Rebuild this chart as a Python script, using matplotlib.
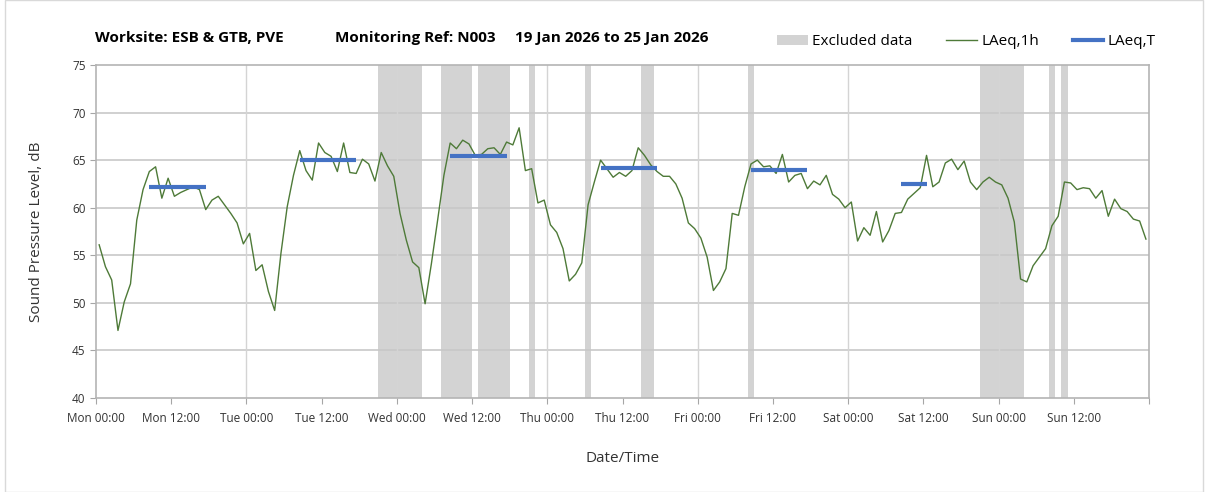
import numpy as np
import matplotlib.pyplot as plt
from matplotlib.patches import Patch, Rectangle
from matplotlib.lines import Line2D

# hourly LAeq,1h values, Mon 00:00 -> Sun 23:00
laeq_1h = [
    56.1, 53.8, 52.4, 47.1, 50.1, 52.0, 58.7, 61.9, 63.8, 64.3, 61.0, 63.1,
    61.2, 61.6, 61.9, 62.2, 61.9, 59.8, 60.8, 61.2, 60.3, 59.4, 58.4, 56.2,
    57.3, 53.4, 54.0, 51.2, 49.2, 55.2, 60.1, 63.4, 66.0, 63.9, 62.9, 66.8,
    65.8, 65.4, 63.8, 66.8, 63.7, 63.6, 65.1, 64.6, 62.8, 65.8, 64.4, 63.3,
    59.4, 56.6, 54.3, 53.7, 49.9, 54.1, 58.7, 63.4, 66.8, 66.2, 67.1, 66.7,
    65.5, 65.6, 66.2, 66.3, 65.6, 66.9, 66.6, 68.4, 63.9, 64.1, 60.5, 60.8,
    58.2, 57.4, 55.7, 52.3, 53.0, 54.2, 60.3, 62.7, 65.0, 64.1, 63.2, 63.7,
    63.3, 63.9, 66.3, 65.5, 64.5, 63.8, 63.3, 63.3, 62.5, 61.0, 58.4, 57.8,
    56.8, 54.8, 51.3, 52.2, 53.6, 59.4, 59.2, 62.2, 64.6, 65.0, 64.3, 64.4,
    63.6, 65.6, 62.7, 63.4, 63.6, 62.0, 62.8, 62.4, 63.4, 61.4, 60.9, 60.0,
    60.6, 56.5, 57.9, 57.1, 59.6, 56.4, 57.6, 59.4, 59.5, 60.9, 61.5, 62.1,
    65.5, 62.2, 62.7, 64.7, 65.1, 64.0, 64.9, 62.7, 61.9, 62.7, 63.2, 62.7,
    62.4, 61.0, 58.5, 52.5, 52.2, 53.9, 54.8, 55.7, 58.1, 59.1, 62.7, 62.6,
    61.9, 62.1, 62.0, 61.0, 61.8, 59.1, 60.9, 59.9, 59.6, 58.8, 58.6, 56.7,
]

# LAeq,T periods: first hour, last hour, level
period_start = [8, 32, 56, 80, 104, 128]
period_end = [17, 41, 65, 89, 113, 132]
period_level = [62.2, 65.0, 65.4, 64.2, 64.0, 62.5]

# excluded data (hours from Mon 00:00)
excl_start = [45, 55, 61, 69, 78, 87, 104, 141, 152, 154]
excl_end = [52, 60, 66, 70, 79, 89, 105, 148, 153, 155]

tick_labels = ["Mon 00:00", "Mon 12:00", "Tue 00:00", "Tue 12:00",
               "Wed 00:00", "Wed 12:00", "Thu 00:00", "Thu 12:00",
               "Fri 00:00", "Fri 12:00", "Sat 00:00", "Sat 12:00",
               "Sun 00:00", "Sun 12:00", ""]

plt.rcParams['font.family'] = ['Open Sans', 'DejaVu Sans']

fig = plt.figure(figsize=(12.08, 4.92), dpi=100)
fig.patches.append(Rectangle((0.004, 0.0), 0.992, 0.999, transform=fig.transFigure,
                             fill=False, edgecolor='#d9d9d9', lw=1))
ax = fig.add_axes([0.0795, 0.1911, 0.8717, 0.6768])

hours = np.arange(len(laeq_1h)) + 0.5
green = '#4e7a38'
blue = '#4472c4'
grey = '#d3d3d3'

for s, e in zip(excl_start, excl_end):
    ax.axvspan(s, e, color=grey, lw=0, zorder=1)

ax.plot(hours, laeq_1h, color=green, lw=1.0, zorder=3)
for s, e, v in zip(period_start, period_end, period_level):
    ax.plot([hours[s], hours[e]], [v, v], color=blue, lw=3, zorder=4,
            solid_capstyle='butt')

ax.set_xlim(0, 168)
ax.set_ylim(40, 75)
ax.set_xticks(np.arange(0, 169, 12))
ax.set_xticklabels(tick_labels, fontsize=8.5, color='#333333')
ax.set_yticks(np.arange(40, 76, 5))
ax.tick_params(axis='y', labelsize=8.5, colors='#333333', length=4, color='#a6a6a6')
ax.tick_params(axis='x', length=4, color='#a6a6a6', pad=6)
for y in np.arange(45, 75, 5):
    ax.axhline(y, color='#c8c8c8', lw=1.2, zorder=2)
for d in range(24, 168, 24):
    ax.axvline(d, color='#d4d4d4', lw=1.0, zorder=2)
for sp in ax.spines.values():
    sp.set_color('#b4b4b4')
    sp.set_linewidth(1.2)

ax.set_ylabel('Sound Pressure Level, dB', fontsize=11, color='#333333', labelpad=20)
ax.set_xlabel('Date/Time', fontsize=11, color='#333333', labelpad=19)

fig.text(0.079, 0.915, 'Worksite: ESB & GTB, PVE', fontsize=11, fontweight='bold')
fig.text(0.277, 0.915, 'Monitoring Ref: N003', fontsize=11, fontweight='bold')
fig.text(0.426, 0.915, '19 Jan 2026 to 25 Jan 2026', fontsize=11, fontweight='bold')

handles = [Patch(facecolor=grey, edgecolor='none'),
           Line2D([], [], color=green, lw=1.0),
           Line2D([], [], color=blue, lw=3)]
fig.legend(handles, ['Excluded data', 'LAeq,1h', 'LAeq,T'], ncol=3,
           loc='center', bbox_to_anchor=(0.8, 0.915), frameon=False,
           fontsize=11, handlelength=2.0, handletextpad=0.3, columnspacing=2.2)

fig.savefig('out.png', dpi=100)
